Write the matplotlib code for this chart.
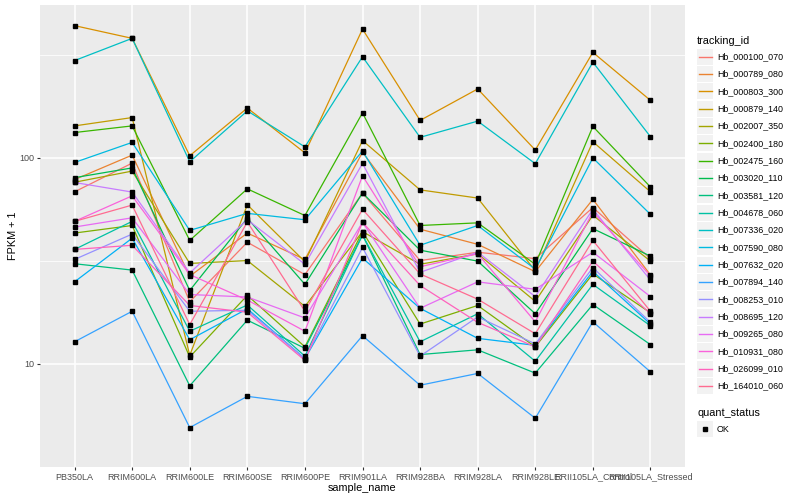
import numpy as np
import matplotlib
matplotlib.use('Agg')
import matplotlib.pyplot as plt
from matplotlib.patches import Rectangle
from matplotlib.ticker import NullFormatter

plt.rcParams['font.family'] = ['Liberation Sans', 'DejaVu Sans']

samples = ['PB350LA', 'RRIM600LA', 'RRIM600LE', 'RRIM600SE', 'RRIM600PE', 'RRIM901LA',
           'RRIM928BA', 'RRIM928LA', 'RRIM928LE', 'RRII105LA_Control', 'RRII105LA_Stressed']

tracking_ids = ['Hb_000100_070', 'Hb_000789_080', 'Hb_000803_300', 'Hb_000879_140',
                'Hb_002007_350', 'Hb_002400_180', 'Hb_002475_160', 'Hb_003020_110',
                'Hb_003581_120', 'Hb_004678_060', 'Hb_007336_020', 'Hb_007590_080',
                'Hb_007632_020', 'Hb_007894_140', 'Hb_008253_010', 'Hb_008695_120',
                'Hb_009265_080', 'Hb_010931_080', 'Hb_026099_010', 'Hb_164010_060']

# ggplot hue palette, 20 levels
colors = ['#F8766D', '#EA8331', '#D89000', '#C09B00', '#A3A500', '#7CAE00', '#39B600',
          '#00BB4E', '#00BF7D', '#00C1A3', '#00BFC4', '#00BAE0', '#00B0F6', '#35A2FF',
          '#9590FF', '#C77CFF', '#E76BF3', '#FA62DB', '#FF62BC', '#FF6C91']

# FPKM + 1 per sample
hb_000100_070 = [68.3, 94.1, 20.0, 38.9, 27.1, 67.4, 31.7, 34.8, 32.4, 57.3, 32.4]
hb_000789_080 = [78.3, 102.9, 26.6, 43.1, 32.1, 106.3, 45.0, 38.0, 28.0, 62.8, 27.0]
hb_000803_300 = [436.8, 379.0, 102.2, 174.1, 105.5, 420.3, 151.6, 215.4, 108.9, 324.1, 189.6]
hb_000879_140 = [142.6, 156.5, 11.0, 59.1, 31.3, 121.1, 69.8, 63.7, 28.3, 119.5, 68.3]
hb_002007_350 = [76.0, 86.1, 30.7, 31.7, 19.0, 43.8, 30.4, 34.2, 20.1, 52.6, 31.5]
hb_002400_180 = [43.1, 46.9, 10.8, 21.5, 12.1, 43.8, 15.6, 19.2, 12.1, 27.3, 17.7]
hb_002475_160 = [132.4, 142.6, 39.7, 70.6, 52.4, 165.0, 46.9, 48.3, 30.4, 141.7, 72.1]
hb_003020_110 = [80.0, 89.2, 22.7, 50.9, 24.3, 67.4, 35.6, 31.5, 17.5, 45.3, 33.3]
hb_003581_120 = [30.6, 28.5, 7.83, 16.3, 11.9, 42.2, 11.1, 11.7, 9.02, 19.4, 12.4]
hb_004678_060 = [35.9, 49.1, 14.4, 19.3, 10.9, 42.2, 12.8, 17.5, 10.3, 24.3, 15.3]
hb_007336_020 = [295.7, 379.0, 95.5, 168.6, 112.8, 308.6, 125.5, 150.4, 93.5, 290.4, 126.4]
hb_007590_080 = [94.8, 118.6, 44.4, 53.7, 50.0, 107.7, 37.6, 46.9, 28.8, 99.7, 53.1]
hb_007632_020 = [25.0, 40.7, 13.1, 18.5, 10.6, 32.6, 18.6, 13.3, 12.3, 28.1, 15.6]
hb_007894_140 = [12.8, 18.0, 4.91, 6.96, 6.41, 13.7, 7.88, 8.99, 5.45, 16.0, 9.15]
hb_008253_010 = [32.1, 42.6, 18.0, 18.2, 10.6, 36.7, 10.9, 16.9, 12.5, 29.3, 15.9]
hb_008695_120 = [75.8, 68.1, 27.6, 50.0, 30.4, 93.8, 27.8, 34.8, 21.2, 56.2, 25.5]
hb_009265_080 = [46.1, 51.1, 21.7, 21.1, 16.7, 48.6, 18.6, 25.0, 23.0, 34.8, 21.2]
hb_010931_080 = [49.1, 65.3, 27.1, 20.4, 14.4, 81.7, 29.6, 34.2, 16.0, 54.6, 26.7]
hb_026099_010 = [35.9, 37.6, 19.2, 17.8, 10.4, 48.6, 24.0, 15.9, 12.1, 31.5, 17.5]
hb_164010_060 = [49.1, 58.9, 15.5, 48.8, 18.0, 56.2, 27.3, 20.6, 14.0, 39.7, 18.0]

series = [hb_000100_070, hb_000789_080, hb_000803_300, hb_000879_140, hb_002007_350,
          hb_002400_180, hb_002475_160, hb_003020_110, hb_003581_120, hb_004678_060,
          hb_007336_020, hb_007590_080, hb_007632_020, hb_007894_140, hb_008253_010,
          hb_008695_120, hb_009265_080, hb_010931_080, hb_026099_010, hb_164010_060]

W, H = 800, 500
fig = plt.figure(figsize=(W / 100, H / 100), dpi=100)
ax = fig.add_axes([40 / W, 1 - 467 / H, 645 / W, 462 / H])
ax.set_facecolor('#EBEBEB')
for s in ax.spines.values():
    s.set_visible(False)

x = np.arange(len(samples))
for vals, c in zip(series, colors):
    ax.plot(x, vals, color=c, lw=0.9, zorder=2)
for vals in series:
    ax.plot(x, vals, 's', color='black', ms=2.8, ls='none', zorder=3)

ax.set_yscale('log')
ax.set_ylim(4.0, 550)
ax.set_xlim(-0.6, len(samples) - 0.4)
ax.set_xticks(x)
ax.set_xticklabels(samples)
ax.set_yticks([10, 100])
ax.set_yticklabels(['10', '100'])
ax.set_yticks([10 ** 0.5, 10 ** 1.5, 10 ** 2.5], minor=True)
ax.yaxis.set_minor_formatter(NullFormatter())
ax.grid(which='major', color='white', lw=1.1, zorder=0)
ax.grid(which='minor', axis='y', color='white', lw=0.55, zorder=0)
ax.set_axisbelow(True)
ax.tick_params(which='major', length=2.5, width=0.8, color='#333333',
               labelsize=6.5, labelcolor='#4D4D4D', pad=1.5)
ax.tick_params(which='minor', length=0)

fig.text(362 / W, 1 - 488 / H, 'sample_name', ha='center', va='center', fontsize=7.8)
fig.text(13 / W, 1 - 236 / H, 'FPKM + 1', ha='center', va='center', rotation=90, fontsize=7.8)

# legends drawn in pixel coordinates
lax = fig.add_axes([0, 0, 1, 1])
lax.set_xlim(0, W)
lax.set_ylim(H, 0)
lax.axis('off')

lax.text(697, 40.5, 'tracking_id', ha='left', va='center', fontsize=7.8)
for i, (tid, c) in enumerate(zip(tracking_ids, colors)):
    yc = 56.7 + i * 17.33
    lax.add_patch(Rectangle((697, yc - 8.1), 16, 16.2, facecolor='#F2F2F2', edgecolor='none'))
    lax.plot([698.5, 711.5], [yc, yc], color=c, lw=1.0)
    lax.text(717, yc, tid, ha='left', va='center', fontsize=6.4)

lax.text(697, 412.5, 'quant_status', ha='left', va='center', fontsize=7.8)
lax.add_patch(Rectangle((697, 429.3 - 8.1), 16, 16.2, facecolor='#F2F2F2', edgecolor='none'))
lax.plot([705], [429.3], 's', color='black', ms=2.8)
lax.text(717, 429.3, 'OK', ha='left', va='center', fontsize=6.4)

fig.savefig('out.png', dpi=100)
